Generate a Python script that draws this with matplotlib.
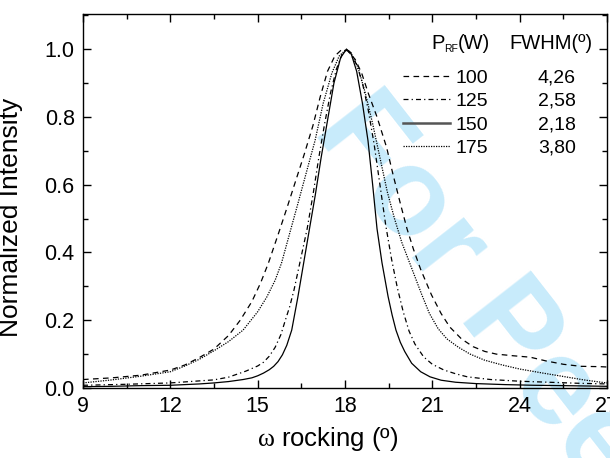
import matplotlib
matplotlib.use("Agg")
import matplotlib.pyplot as plt
from matplotlib.lines import Line2D

plt.rcParams['font.family'] = ['Liberation Sans', 'DejaVu Sans']
plt.rcParams['mathtext.fontset'] = 'custom'
plt.rcParams['mathtext.rm'] = 'Liberation Serif'
plt.rcParams['mathtext.sf'] = 'Liberation Sans'

# ---- data ----
powers = ["100", "125", "150", "175"]
fwhm = ["4,26", "2,58", "2,18", "3,80"]

x_100 = [9, 10, 11, 12, 12.5, 13, 13.5, 14, 14.4, 14.8, 15.1, 15.37, 15.73, 16.0, 16.3, 16.6, 16.9,
         17.15, 17.4, 17.65, 17.9, 18.1, 18.35, 18.57, 18.8, 19.1, 19.43, 19.65, 19.9, 20.13, 20.35,
         20.6, 20.97, 21.3, 21.6, 22.0, 22.4, 22.8, 23.2, 23.8, 24.36, 24.9, 25.5, 26.1, 26.76, 27]
y_100 = [0.025, 0.03, 0.038, 0.053, 0.068, 0.09, 0.115, 0.155, 0.2, 0.255, 0.31, 0.369, 0.46, 0.53,
         0.61, 0.69, 0.775, 0.86, 0.935, 0.98, 1.0, 0.995, 0.97, 0.93, 0.87, 0.8, 0.71, 0.63, 0.545,
         0.47, 0.41, 0.35, 0.275, 0.22, 0.18, 0.145, 0.122, 0.108, 0.1, 0.095, 0.091, 0.08, 0.07,
         0.064, 0.063, 0.062]

x_125 = [9, 10.5, 12, 13.5, 14.0, 14.6, 15.0, 15.2, 15.4, 15.6, 15.8, 15.95, 16.1, 16.25, 16.4, 16.55,
         16.7, 16.9, 17.1, 17.3, 17.5, 17.7, 17.9, 18.05, 18.2, 18.4, 18.6, 18.8, 19.0, 19.2, 19.4,
         19.6, 19.8, 20.0, 20.2, 20.4, 20.7, 21.0, 21.4, 21.8, 22.2, 23, 24, 25, 26, 27]
y_125 = [0.008, 0.011, 0.015, 0.024, 0.032, 0.05, 0.065, 0.076, 0.094, 0.12, 0.158, 0.2, 0.24, 0.29,
         0.35, 0.41, 0.47, 0.57, 0.68, 0.78, 0.87, 0.94, 0.985, 1.0, 0.985, 0.955, 0.9, 0.82, 0.72,
         0.6, 0.48, 0.38, 0.295, 0.225, 0.168, 0.13, 0.092, 0.07, 0.053, 0.042, 0.033, 0.025, 0.02,
         0.017, 0.014, 0.012]

x_150 = [9, 10, 11, 12, 13, 13.5, 14, 14.5, 14.8, 15.0, 15.2, 15.4, 15.55, 15.7, 15.85, 16.0, 16.17,
         16.38, 16.58, 16.78, 16.98, 17.18, 17.4, 17.62, 17.85, 18.05, 18.2, 18.4, 18.6, 18.79, 18.95,
         19.1, 19.27, 19.48, 19.62, 19.75, 19.9, 20.05, 20.29, 20.6, 20.92, 21.3, 21.8, 22.5, 23.5,
         24.5, 25.5, 27]
y_150 = [0.004, 0.005, 0.007, 0.008, 0.012, 0.015, 0.019, 0.025, 0.03, 0.036, 0.044, 0.054, 0.064,
         0.078, 0.098, 0.126, 0.171, 0.268, 0.369, 0.47, 0.57, 0.68, 0.79, 0.9, 0.975, 1.0, 0.99,
         0.935, 0.84, 0.73, 0.6, 0.47, 0.37, 0.27, 0.215, 0.171, 0.135, 0.108, 0.073, 0.048, 0.033,
         0.023, 0.017, 0.013, 0.01, 0.008, 0.007, 0.005]

x_175 = [9, 10, 11, 12, 12.5, 13, 13.5, 14, 14.5, 15, 15.31, 15.6, 15.82, 16.13, 16.4, 16.7, 16.97,
         17.25, 17.55, 17.8, 18.05, 18.2, 18.45, 18.7, 18.95, 19.2, 19.45, 19.7, 19.95, 20.24, 20.64,
         20.9, 21.2, 21.5, 21.9, 22.3, 22.8, 23.4, 24, 24.8, 25.5, 26.2, 26.8, 27]
y_175 = [0.015, 0.024, 0.035, 0.048, 0.065, 0.085, 0.11, 0.137, 0.171, 0.225, 0.268, 0.318, 0.369,
         0.466, 0.55, 0.645, 0.73, 0.84, 0.93, 0.98, 1.0, 0.99, 0.945, 0.87, 0.78, 0.68, 0.58, 0.5,
         0.43, 0.365, 0.275, 0.22, 0.175, 0.145, 0.12, 0.1, 0.082, 0.068, 0.056, 0.044, 0.034, 0.024,
         0.017, 0.015]

xticks = [9, 12, 15, 18, 21, 24, 27]
yticks = [0.0, 0.2, 0.4, 0.6, 0.8, 1.0]

# ---- styles ----
styles = [
    dict(ls=(0, (4.5, 3.5)), lw=0.9, color='black'),
    dict(ls=(0, (4, 2.5, 1, 2.5)), lw=0.9, color='black'),
    dict(ls='-', lw=0.9, color='black'),
    dict(ls=(0, (1, 1)), lw=0.9, color='black'),
]

W, H = 610, 458
fig = plt.figure(figsize=(W / 100, H / 100), dpi=100)
L, R, T, B = 83, 607, 14, 388
ax = fig.add_axes([L / W, 1 - B / H, (R - L) / W, (B - T) / H])
ax.patch.set_alpha(0)

# watermark
fig.text(312 / W, 1 - 130 / H, "For Peer", fontsize=90, fontweight='bold',
         color='#c8ebfb', rotation=-52, rotation_mode='anchor',
         ha='left', va='baseline', zorder=-1)

series = [(x_100, y_100), (x_125, y_125), (x_150, y_150), (x_175, y_175)]
for (xs, ys), st in zip(series, styles):
    ax.plot(xs, ys, solid_joinstyle='round', **st)

ax.set_xlim(9, 27)
ax.set_ylim(0, 1.104)
ax.set_xticks(xticks)
ax.set_xticklabels([str(v) for v in xticks])
ax.set_yticks(yticks)
ax.set_yticklabels([f"{v:.1f}" for v in yticks])
ax.set_xticks([10.5, 13.5, 16.5, 19.5, 22.5, 25.5], minor=True)
ax.set_yticks([0.1, 0.3, 0.5, 0.7, 0.9, 1.1], minor=True)
ax.tick_params(which='both', direction='in', top=True, right=True, width=1)
ax.tick_params(which='major', length=5.5, labelsize=15.5, pad=6)
ax.tick_params(which='minor', length=3.5)
for s in ax.spines.values():
    s.set_linewidth(1.0)

ax.set_xlabel(r"$\mathrm{\omega}$ rocking (º)", fontsize=18.5)
ax.set_ylabel("Normalized Intensity", fontsize=19)
ax.xaxis.set_label_coords(0.467, -0.1)
ax.yaxis.set_label_coords(-0.115, 0.455)

# legend table
def ax_x(px):
    return (px - L) / (R - L)

def ax_y(py):
    return (B - py) / (B - T)

ax.text(ax_x(431.7), ax_y(49), "P", fontsize=14.5, transform=ax.transAxes, va='baseline', ha='left')
ax.text(ax_x(444.5), ax_y(51.7), "RF", fontsize=7.5, transform=ax.transAxes, va='baseline', ha='left')
ax.text(ax_x(458), ax_y(49), "(W)", fontsize=14.5, transform=ax.transAxes, va='baseline', ha='left')
ax.text(ax_x(509), ax_y(49), "FWHM(º)", fontsize=14.5, transform=ax.transAxes, va='baseline', ha='left')

row_base = [82.7, 105.5, 129.5, 152.7]
for i, (p, f, st) in enumerate(zip(powers, fwhm, styles)):
    yb = row_base[i]
    lst = dict(st)
    if i == 2:
        lst.update(color='#555555', lw=1.8)
    ax.add_line(Line2D([ax_x(403), ax_x(450)], [ax_y(yb - 6.5)] * 2, transform=ax.transAxes, **lst))
    ax.text(ax_x(455.5), ax_y(yb), p, fontsize=14, transform=ax.transAxes, va='baseline', ha='left')
    ax.text(ax_x(576), ax_y(yb), f, fontsize=14, transform=ax.transAxes, va='baseline', ha='right')

fig.savefig("out.png", dpi=100)
